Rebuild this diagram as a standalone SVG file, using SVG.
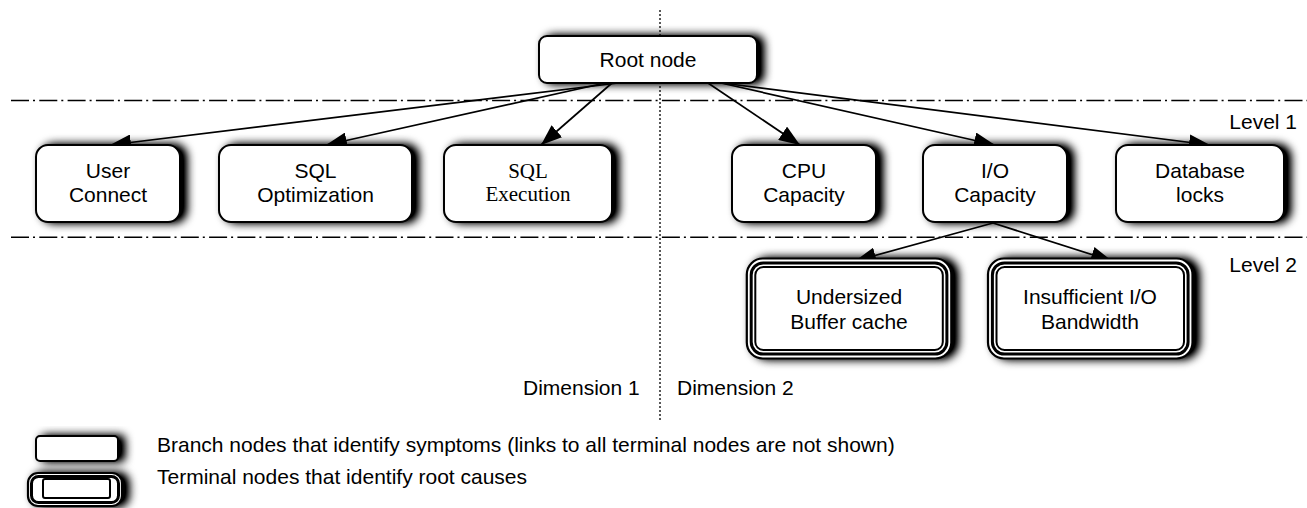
<svg xmlns="http://www.w3.org/2000/svg" width="1307" height="508" viewBox="0 0 1307 508">
<style>
text{font-family:"Liberation Sans",Arial,sans-serif;font-size:21px;fill:#000}
.c{text-anchor:middle}
.serif{font-family:"Liberation Serif","Times New Roman",serif}
.box{fill:#fff;stroke:#000;stroke-width:2}
.conn{stroke:#000;stroke-width:1.7;fill:none;marker-end:url(#ah)}
.guide{stroke:#000;stroke-width:1.5;fill:none;stroke-dasharray:18 4 2 4.3}
.dim{stroke:#222;stroke-width:1.5;fill:none;stroke-dasharray:2 2}
.t1{fill:#fff;stroke:#000;stroke-width:2.2}
.t2{fill:none;stroke:#000;stroke-width:3}
.t3{fill:#fff;stroke:#000;stroke-width:2}
</style>
<defs>
<filter id="sh" x="-20%" y="-40%" width="150%" height="180%">
<feGaussianBlur in="SourceAlpha" stdDeviation="5"/>
<feOffset dx="6" dy="0" result="o"/>
<feComponentTransfer><feFuncA type="linear" slope="1.3"/></feComponentTransfer>
<feMerge><feMergeNode/><feMergeNode in="SourceGraphic"/></feMerge>
</filter>
<marker id="ah" viewBox="0 0 21 16" markerWidth="21" markerHeight="16" refX="21" refY="8" orient="auto" markerUnits="userSpaceOnUse">
<path d="M0,0 L21,8 L0,16 z" fill="#000"/>
</marker>
</defs>

<g id="guides">
<line class="guide" x1="11" y1="100.5" x2="1307" y2="100.5"/>
<line class="guide" x1="11" y1="237.2" x2="1307" y2="237.2"/>
<line class="dim" x1="660" y1="10" x2="660" y2="422"/>
<text x="1297" y="129" text-anchor="end">Level 1</text>
<text x="1297" y="272" text-anchor="end">Level 2</text>
<text x="523" y="395">Dimension 1</text>
<text x="677" y="395">Dimension 2</text>
</g>

<g id="connectors">
<line class="conn" x1="618" y1="83" x2="110" y2="145"/>
<line class="conn" x1="605" y1="83" x2="326" y2="145"/>
<line class="conn" x1="612" y1="83" x2="541" y2="145"/>
<line class="conn" x1="708" y1="83" x2="800" y2="145"/>
<line class="conn" x1="721" y1="83" x2="995" y2="145"/>
<line class="conn" x1="722" y1="83" x2="1210" y2="145"/>
<line class="conn" x1="993" y1="223" x2="855" y2="261"/>
<line class="conn" x1="993" y1="223" x2="1112" y2="261"/>
</g>

<g id="root">
<rect class="box" x="539" y="36" width="218" height="47" rx="8" filter="url(#sh)"/>
<text class="c" x="648" y="67">Root node</text>
</g>

<g id="user-connect">
<rect class="box" x="36" y="145" width="144" height="77" rx="12" filter="url(#sh)"/>
<text class="c" x="108" y="178">User</text>
<text class="c" x="108" y="202">Connect</text>
</g>

<g id="sql-optimization">
<rect class="box" x="219" y="145" width="193" height="77" rx="12" filter="url(#sh)"/>
<text class="c" x="315.5" y="178">SQL</text>
<text class="c" x="315.5" y="202">Optimization</text>
</g>

<g id="sql-execution">
<rect class="box" x="444" y="145" width="168" height="77" rx="12" filter="url(#sh)"/>
<text class="c serif" x="528" y="178">SQL</text>
<text class="c serif" x="528" y="201">Execution</text>
</g>

<g id="cpu-capacity">
<rect class="box" x="732" y="145" width="144" height="77" rx="12" filter="url(#sh)"/>
<text class="c" x="804" y="178">CPU</text>
<text class="c" x="804" y="202">Capacity</text>
</g>

<g id="io-capacity">
<rect class="box" x="923" y="145" width="144" height="77" rx="12" filter="url(#sh)"/>
<text class="c" x="995" y="178">I/O</text>
<text class="c" x="995" y="202">Capacity</text>
</g>

<g id="database-locks">
<rect class="box" x="1116" y="145" width="168" height="77" rx="12" filter="url(#sh)"/>
<text class="c" x="1200" y="178">Database</text>
<text class="c" x="1200" y="202">locks</text>
</g>

<g id="undersized-buffer-cache">
<rect class="t1" x="746.8" y="258.5" width="204.5" height="100" rx="16" filter="url(#sh)"/>
<rect class="t2" x="751.2" y="262.9" width="195.7" height="91.2" rx="12"/>
<rect class="t3" x="755.3" y="267" width="187.5" height="83" rx="8"/>
<text class="c" x="849" y="304">Undersized</text>
<text class="c" x="849" y="329">Buffer cache</text>
</g>

<g id="insufficient-io-bandwidth">
<rect class="t1" x="988" y="258.5" width="204.5" height="100" rx="16" filter="url(#sh)"/>
<rect class="t2" x="992.4" y="262.9" width="195.7" height="91.2" rx="12"/>
<rect class="t3" x="996.5" y="267" width="187.5" height="83" rx="8"/>
<text class="c" x="1090" y="304">Insufficient I/O</text>
<text class="c" x="1090" y="329">Bandwidth</text>
</g>

<g id="legend-branch">
<rect class="box" x="36" y="436" width="82" height="25" rx="4" filter="url(#sh)"/>
<text x="157" y="452">Branch nodes that identify symptoms (links to all terminal nodes are not shown)</text>
</g>

<g id="legend-terminal">
<rect class="t1" x="28" y="473" width="94" height="33" rx="10" filter="url(#sh)"/>
<rect class="t2" x="31.5" y="476.5" width="87" height="26" rx="7"/>
<rect class="t3" x="43" y="479" width="67" height="19" rx="2"/>
<text x="157" y="484">Terminal nodes that identify root causes</text>
</g>
</svg>
